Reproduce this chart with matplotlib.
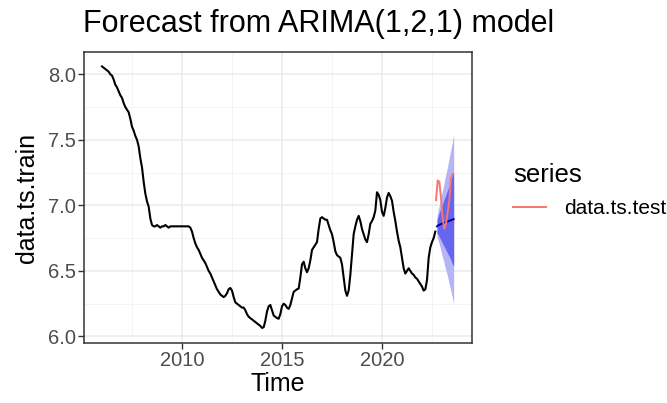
import numpy as np
import matplotlib
matplotlib.use('Agg')
import matplotlib.pyplot as plt
from matplotlib.ticker import MultipleLocator, FormatStrFormatter

plt.rcParams['font.family'] = ['Liberation Sans', 'DejaVu Sans']

# training series, monthly from Jan 2006 to Sep 2022
train_start = 2006.0
train_values = [
    8.06, 8.05, 8.04, 8.03, 8.02, 8.00, 7.99, 7.96, 7.92, 7.90, 7.87, 7.84,
    7.82, 7.78, 7.75, 7.73, 7.71, 7.66, 7.60, 7.57, 7.53, 7.50, 7.45, 7.36,
    7.29, 7.18, 7.09, 7.03, 6.99, 6.90, 6.85, 6.84, 6.84, 6.85, 6.84, 6.83,
    6.84, 6.84, 6.85, 6.84, 6.83, 6.84, 6.84, 6.84, 6.84, 6.84, 6.84, 6.84,
    6.84, 6.84, 6.84, 6.84, 6.84, 6.83, 6.80, 6.75, 6.71, 6.68, 6.66, 6.63,
    6.60, 6.58, 6.56, 6.53, 6.50, 6.48, 6.45, 6.42, 6.39, 6.36, 6.34, 6.32,
    6.31, 6.30, 6.31, 6.33, 6.36, 6.37, 6.35, 6.30, 6.26, 6.25, 6.24, 6.23,
    6.22, 6.22, 6.20, 6.17, 6.15, 6.14, 6.13, 6.12, 6.11, 6.10, 6.09, 6.08,
    6.065, 6.07, 6.12, 6.19, 6.23, 6.24, 6.20, 6.16, 6.15, 6.14, 6.135, 6.17,
    6.23, 6.25, 6.24, 6.22, 6.21, 6.24, 6.29, 6.34, 6.35, 6.36, 6.365, 6.45,
    6.55, 6.57, 6.52, 6.49, 6.52, 6.58, 6.66, 6.68, 6.70, 6.72, 6.82, 6.90,
    6.91, 6.90, 6.89, 6.89, 6.85, 6.81, 6.78, 6.72, 6.65, 6.62, 6.61, 6.60,
    6.55, 6.45, 6.35, 6.31, 6.35, 6.47, 6.62, 6.78, 6.84, 6.89, 6.92, 6.88,
    6.82, 6.78, 6.74, 6.72, 6.78, 6.86, 6.88, 6.91, 6.96, 7.10, 7.08, 7.04,
    6.95, 6.92, 6.98, 7.06, 7.095, 7.07, 7.035, 6.95, 6.88, 6.80, 6.73, 6.68,
    6.60, 6.52, 6.48, 6.50, 6.52, 6.50, 6.48, 6.47, 6.45, 6.44, 6.42, 6.40,
    6.38, 6.35, 6.36, 6.43, 6.60, 6.68, 6.72, 6.75, 6.80,
]

# forecast horizon, Oct 2022 to Aug 2023
fc_start = 2022.75
fc_mean = [6.84, 6.85, 6.855, 6.86, 6.865, 6.87, 6.875, 6.88, 6.885, 6.89, 6.895]
lo80 = [6.79, 6.77, 6.745, 6.72, 6.695, 6.67, 6.645, 6.62, 6.595, 6.56, 6.535]
hi80 = [6.89, 6.93, 6.965, 7.00, 7.035, 7.07, 7.105, 7.14, 7.175, 7.22, 7.255]
lo95 = [6.76, 6.72, 6.675, 6.62, 6.575, 6.52, 6.475, 6.42, 6.365, 6.31, 6.25]
hi95 = [6.92, 6.98, 7.035, 7.10, 7.155, 7.22, 7.275, 7.34, 7.405, 7.47, 7.54]

# test series, same months as forecast
test_values = [7.04, 7.19, 7.18, 7.06, 6.90, 6.82, 6.86, 6.95, 7.04, 7.21, 7.24]

t_train = train_start + np.arange(len(train_values)) / 12
t_fc = fc_start + np.arange(len(fc_mean)) / 12
t_test = fc_start + np.arange(len(test_values)) / 12 - 0.05

fig = plt.figure(figsize=(6.67, 4.03), dpi=100)
ax = fig.add_axes([84/667, 1 - 343/403, (472 - 84)/667, (343 - 52)/403])

ax.fill_between(t_fc, lo95, hi95, color='#B4B4F6', lw=0, zorder=2)
ax.fill_between(t_fc, lo80, hi80, color='#6565EE', lw=0, zorder=3)
ax.plot(t_train, train_values, color='black', lw=1.5, zorder=4)
ax.plot(t_fc, fc_mean, color='#0000AA', lw=1.4, zorder=5)
ax.plot(t_test, test_values, color='#F8766D', lw=1.4, zorder=6, label='data.ts.test')

ax.set_xlim(2005.1, 2024.5)
ax.set_ylim(5.95, 8.17)
ax.xaxis.set_minor_locator(MultipleLocator(2.5))
ax.yaxis.set_major_locator(MultipleLocator(0.5))
ax.yaxis.set_minor_locator(MultipleLocator(0.25))
ax.set_xticks([2010, 2015, 2020])
ax.yaxis.set_major_formatter(FormatStrFormatter('%.1f'))

ax.grid(which='major', color='#EBEBEB', lw=1.1, zorder=0)
ax.grid(which='minor', color='#F2F2F2', lw=0.6, zorder=0)
ax.set_axisbelow(True)
for s in ax.spines.values():
    s.set_color('#333333')
    s.set_linewidth(1.1)
ax.tick_params(which='major', length=4, width=1.0, color='#333333',
               labelsize=14.5, labelcolor='#4D4D4D', pad=2)
ax.tick_params(which='minor', length=0)

ax.set_xlabel('Time', fontsize=18, color='black', labelpad=1)
ax.set_ylabel('data.ts.train', fontsize=18, color='black', labelpad=6)
fig.text(83/667, 1 - 24/403, 'Forecast from ARIMA(1,2,1) model', fontsize=22,
         va='center', ha='left')

leg = fig.legend(loc='upper left', bbox_to_anchor=(513/667, 1 - 163/403), frameon=False,
                 title='series', fontsize=15, title_fontsize=18.5, handlelength=1.6,
                 handletextpad=0.85, borderpad=0, borderaxespad=0, labelspacing=0.6)
leg._legend_box.align = 'left'

fig.savefig('out.png', dpi=100)
